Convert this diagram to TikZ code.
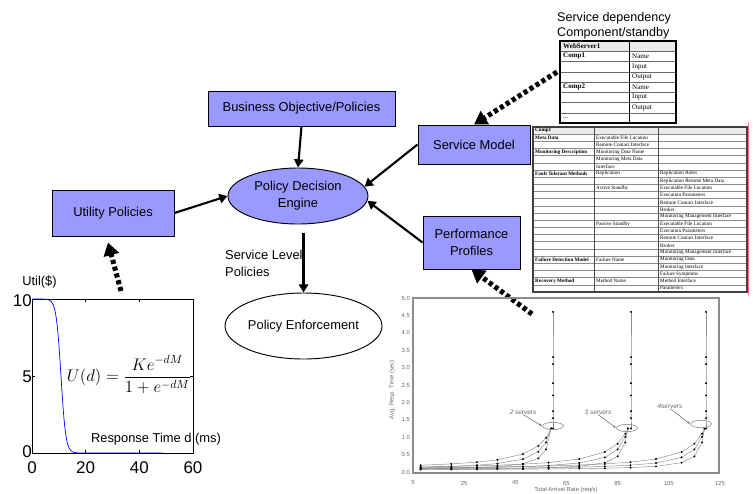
\documentclass[tikz,border=0pt]{standalone}
\usepackage{fontspec}
\setmainfont{Liberation Sans}
\newfontfamily\tabfont{Liberation Serif}
\usepackage{tikz}
\usetikzlibrary{positioning}
\usetikzlibrary{arrows.meta,shapes.geometric}
\usetikzlibrary{calc}
\definecolor{boxblue}{HTML}{9999FF}
\newcommand\lblfont{\fontsize{11}{14.5}\selectfont}
\tikzstyle{policybox}=[rectangle,draw=black,fill=boxblue,line width=0.8pt,inner sep=0pt,font=\lblfont,align=center]
\tikzstyle{engine}=[ellipse,draw=black,line width=0.8pt,inner sep=0pt,font=\lblfont,align=center]
\tikzstyle{flow} = [draw,line width=1.8pt,-{Triangle[length=7pt,width=8pt]}]
\tikzstyle{feed} = [draw,line width=4.3pt,dash pattern=on 3.5pt off 2.5pt,-{Triangle[length=11pt,width=13pt]}]
\tikzstyle{wscell}=[anchor=west,inner sep=0pt,font=\tabfont\fontsize{6}{7}\selectfont]
\tikzstyle{cell}=[anchor=west,inner sep=0pt,font=\tabfont\fontsize{4.4}{5}\selectfont]
\tikzstyle{ticklab}=[inner sep=0pt,font=\fontsize{14.5}{15}\selectfont]
\tikzstyle{trace}=[draw=black!45,line width=0.4pt,mark=*,mark size=0.6pt,mark options={draw=black,fill=black}]
\tikzset{axlabel/.style={inner sep=0pt,text=black!60,font=\fontsize{5}{6}\selectfont}}
\tikzset{ring/.style={ellipse,draw=black!40,line width=0.6pt,inner sep=0pt,minimum width=0.63cm,minimum height=0.22cm}}

\begin{document}
\begin{tikzpicture}[x=0.03cm,y=-0.03cm]
\useasboundingbox (0,0) rectangle (753,493);

 %policy boxes
 \node[policybox,minimum width=5.61cm,minimum height=1.05cm] (bizobj) at (301.5,108.5) {Business Objective/Policies};
 \node[engine,fill=boxblue,minimum width=4.2cm,minimum height=1.68cm] (pde) at (298,196) {Policy Decision\\Engine};
 \node[policybox,minimum width=3.36cm,minimum height=1.17cm] (svc) at (474,144.5) {Service Model};
 \node[policybox,minimum width=2.91cm,minimum height=1.59cm] (perf) at (471.5,242.5) {Performance\\Profiles};
 \node[policybox,minimum width=3.66cm,minimum height=1.38cm] (util) at (113,213) {Utility Policies};
 \node[engine,fill=white,minimum width=4.65cm,minimum height=1.98cm] (enf) at (303.5,326) {Policy Enforcement};
 \node[anchor=west,align=left,inner sep=0pt,font=\lblfont] (slp) at (225,263.5) {Service Level\\Policies};

 \path[flow] (bizobj.south) -- (pde.north);
 \path[flow] (svc.west) -- (pde.8);
 \path[flow] (perf.west) -- (pde.-4);
 \path[flow] (util.east) -- (pde.west);
 \path[flow,shorten <=7pt] (enf.north |- pde.south) -- (enf.north);

 %feeds
 \coordinate (depsrc) at (557,72);
 \coordinate (profsrc) at (532,314);
 \coordinate (utilsrc) at (121,291);
 \path[feed] (depsrc) -- (svc.north);
 \path[feed] (profsrc) -- (perf.south);
 \path[feed] (utilsrc) -- ($(util.south)+(-5,6)$);

 %WebServer table
 \node[anchor=west,align=left,inner sep=0pt,font=\fontsize{10.7}{12.8}\selectfont] (depcap) at (557,25.5) {Service dependency\\Component/standby};
 \fill[black!8] (560,41) rectangle (676,51.25);
 \foreach \i in {1,...,7}
    \draw[black!60,line width=0.4pt] (560,{41+\i*10.25}) -- (676,{41+\i*10.25});
 \draw[line width=0.5pt] (629,41) -- (629,123);
 \draw[line width=0.9pt] (560,41) rectangle (676,123);
 \foreach \i/\txt in {1/WebServer1,2/Comp1,5/Comp2}
    \node[wscell,font=\tabfont\bfseries\fontsize{6}{7}\selectfont] (wsA\i) at (563,{41+(\i-0.5)*10.25}) {\txt};
 \foreach \i/\txt in {2/Name,3/Input,4/Output,5/Name,6/Input,7/Output}
    \node[wscell] (wsB\i) at (632,{41+(\i-0.5)*10.25}) {\txt};
 \node[wscell] (wsA8) at (563,{41+7.5*10.25}) {...};

 %Comp1 table
 \fill[black!8] (533,127) rectangle (747,134.17);
 \foreach \i in {1,...,22}
    \draw[black!45,line width=0.4pt] (533,{127+\i*7.17}) -- (747,{127+\i*7.17});
 \draw[black!70,line width=0.5pt] (594,127) -- (594,292);
 \draw[black!70,line width=0.5pt] (658,127) -- (658,292);
 \draw[black!75,line width=1.1pt] (533,127) rectangle (747,292);
 \draw[red!55,line width=0.6pt] (748.5,123) -- (748.5,295);
 \foreach \i/\txt in {1/Comp1,2/Meta Data,4/Monitoring Description,7/Fault Tolerant Methods,19/Failure Detection Model,22/Recovery Method}
    \node[cell,font=\tabfont\bfseries\fontsize{4.4}{5}\selectfont] (cA\i) at (535,{127+(\i-0.5)*7.17}) {\txt};
 \foreach \i/\txt in {2/Executable File Location,3/Remote Contact Interface,4/Monitoring Data Name,5/Monitoring Meta Data,6/Interface,7/Replication,9/Active Standby,14/Passive Standby,19/Failure Name,22/Method Name}
    \node[cell] (cB\i) at (596,{127+(\i-0.5)*7.17}) {\txt};
 \foreach \i/\txt in {7/Replication Rules,8/Replication Remote Meta Data,9/Executable File Location,10/Execution Parameters,11/Remote Contact Interface,12/Broker,13/Monitoring Management Interface,14/Executable File Location,15/Execution Parameters,16/Remote Contact Interface,17/Broker,18/Monitoring Management Interface,19/Monitoring Data,20/Monitoring Interface,21/Failure Symptoms,22/Method Interface,23/Parameters}
    \node[cell] (cC\i) at (660,{127+(\i-0.5)*7.17}) {\txt};

 %Util plot
 \draw[line width=0.8pt] (32,299) rectangle (193,453);
 \foreach \d in {20,40} {
    \draw[line width=0.5pt] ({32+2.6833*\d},453) -- ++(0,-3);
    \draw[line width=0.5pt] ({32+2.6833*\d},299) -- ++(0,3);
 }
 \draw[line width=0.5pt] (32,376) -- ++(3,0);
 \draw[line width=0.5pt] (193,376) -- ++(-3,0);
 \draw[blue,line width=0.6pt] plot[domain=0:19,samples=100] ({32+2.6833*\x},{453-154/(1+exp((\x-10.8)/0.9))}) -- ({32+2.6833*48.5},453);
 \foreach \y/\t in {301/10,377/5,452/0}
    \node[ticklab,anchor=east] (uy\t) at (32,\y) {\t};
 \foreach \d in {0,20,40,60}
    \node[ticklab] (ux\d) at ({32+2.6833*\d},468) {\d};
 \node[inner sep=0pt,font=\lblfont] (utilttl) at (39.5,282) {Util(\$)};
 \node[inner sep=0pt,font=\lblfont] (rttl) at (156,439) {Response Time d (ms)};
 \node[inner sep=0pt,font=\fontsize{14}{16}\selectfont] (ufrm) at (129,375) {$\displaystyle U(d) = \frac{Ke^{-dM}}{1+e^{-dM}}$};

 %Response time plot
 \draw[black!45,line width=1pt] (413,298) rectangle (719,473);
 \foreach \v [count=\k] in {0.0,0.5,1.0,1.5,2.0,2.5,3.0,3.5,4.0,4.5,5.0}
    \node[axlabel,anchor=east] (ryt\k) at (410,{472-34.8*\v}) {\v};
 \foreach \v in {5,25,45,65,85,105,125}
    \node[axlabel] (rxt\v) at ({400.2+2.558*\v},483) {\v};
 \node[axlabel,rotate=90] (rytl) at (392,390) {Avg. Resp. Time (sec)};
 \node[axlabel] (rxtl) at (566,489.5) {Total Arrival Rate (req/s)};

 \foreach \e in {1,3,6} {
    \draw[trace] plot[samples at={8,20,30,38,48,54,57,59}] ({400.2+2.558*\x},{472-34.8*(0.05+1.2*(\e+1)/(60+\e-\x))});
    \draw[trace] plot[samples at={8,20,30,38,48,58,70,80,85,88,89}] ({400.2+2.558*\x},{472-34.8*(0.05+1.2*(\e+1)/(90+\e-\x))});
    \draw[trace] plot[samples at={8,20,30,38,48,58,70,80,90,100,110,115,118,119}] ({400.2+2.558*\x},{472-34.8*(0.05+1.2*(\e+1)/(120+\e-\x))});
 }
 \foreach \c in {553,631,706}
    \draw[trace] plot[samples at={1.25,1.55,1.75,2.2,2.55,3.1,3.3,4.6}] (\c,{472-34.8*\x});

 \node[ring] (ring1) at (553,426) {};
 \node[ring] (ring2) at (627,428) {};
 \node[ring] (ring3) at (701,424) {};
 \node[axlabel,font=\itshape\fontsize{5.5}{6}\selectfont] (lab1) at (523,412) {2 servers};
 \node[axlabel,font=\itshape\fontsize{5.5}{6}\selectfont] (lab2) at (598,412) {3 servers};
 \node[axlabel,font=\itshape\fontsize{5.5}{6}\selectfont] (lab3) at (670,406) {4servers};
 \foreach \s/\d in {lab1/ring1,lab2/ring2,lab3/ring3}
    \draw[black!55,line width=0.5pt,-{Latex[length=2.5pt,width=2pt]}] (\s.south) -- (\d.west);

\end{tikzpicture}
\end{document}
